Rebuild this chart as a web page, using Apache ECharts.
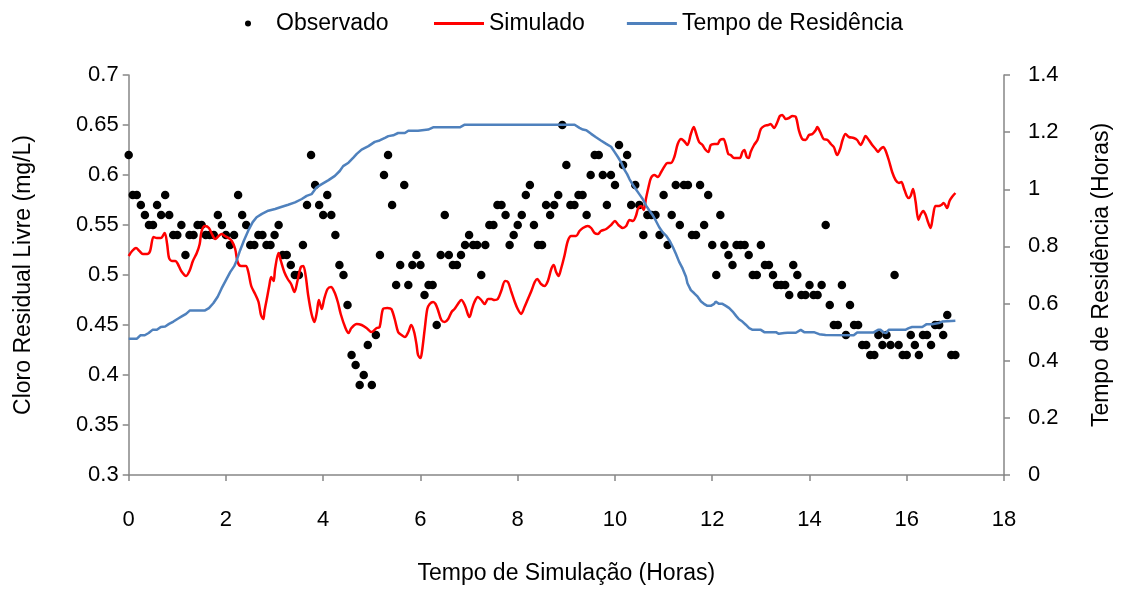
<!DOCTYPE html>
<html>
<head>
<meta charset="utf-8">
<script src="https://cdn.jsdelivr.net/npm/echarts@6/dist/echarts.min.js"></script>
<style>
  html, body { margin: 0; padding: 0; background: #ffffff; }
  #chart { width: 1121px; height: 590px; }
</style>
</head>
<body>
<div id="chart"></div>
<script>
// Observed free residual chlorine (mg/L), one sample every 5 minutes from t = 0 h
const sampleStepHours = 5 / 60;
const observado = [
  0.62, 0.58, 0.58, 0.57, 0.56, 0.55, 0.55, 0.57, 0.56, 0.58,
  0.56, 0.54, 0.54, 0.55, 0.52, 0.54, 0.54, 0.55, 0.55, 0.54,
  0.54, 0.54, 0.56, 0.55, 0.54, 0.53, 0.54, 0.58, 0.56, 0.55,
  0.53, 0.53, 0.54, 0.54,
  0.53, 0.53, 0.54, 0.55, 0.52, 0.52, 0.51, 0.50, 0.50, 0.53,
  0.57, 0.62, 0.59, 0.57, 0.56, 0.58, 0.56, 0.54, 0.51, 0.50,
  0.47, 0.42, 0.41, 0.39, 0.40, 0.43, 0.39, 0.44, 0.52, 0.60,
  0.62, 0.57, 0.49, 0.51, 0.59,
  0.49, 0.51, 0.52, 0.51, 0.48, 0.49, 0.49, 0.45, 0.52, 0.56,
  0.52, 0.51, 0.51, 0.52, 0.53, 0.54, 0.53, 0.53, 0.50, 0.53,
  0.55, 0.55, 0.57, 0.57, 0.56, 0.53, 0.54, 0.55, 0.56, 0.58,
  0.59, 0.55, 0.53, 0.53, 0.57,
  0.56, 0.57, 0.58, 0.65, 0.61, 0.57, 0.57, 0.58, 0.58, 0.56,
  0.60, 0.62, 0.62, 0.60, 0.57, 0.60, 0.59, 0.63, 0.61, 0.62,
  0.57, 0.59, 0.57, 0.54, 0.56, 0.56, 0.56,
  0.54, 0.58, 0.53, 0.56, 0.59, 0.55, 0.59, 0.59, 0.54, 0.54,
  0.59, 0.55, 0.58, 0.53, 0.50, 0.56, 0.53, 0.52, 0.51, 0.53,
  0.53, 0.53, 0.52, 0.50, 0.50, 0.53, 0.51, 0.51, 0.50, 0.49,
  0.49, 0.49, 0.48, 0.51, 0.50, 0.48, 0.48, 0.49, 0.48, 0.48,
  0.49, 0.55,
  0.47, 0.45, 0.45, 0.49, 0.44, 0.47, 0.45, 0.45, 0.43, 0.43,
  0.42, 0.42, 0.44, 0.43, 0.44, 0.43, 0.50, 0.43, 0.42, 0.42,
  0.44, 0.43, 0.42, 0.44, 0.44, 0.43, 0.45, 0.45, 0.44, 0.46,
  0.42, 0.42
];

// Simulated chlorine: [hours, mg/L]
const simulado = [
  [0.00,0.519],[0.07,0.524],[0.15,0.527],[0.22,0.524],[0.29,0.521],[0.38,0.521],[0.44,0.524],[0.51,0.538],
  [0.58,0.537],[0.66,0.537],[0.74,0.542],[0.79,0.531],[0.83,0.517],[0.89,0.514],[0.96,0.514],[1.01,0.511],
  [1.08,0.504],[1.18,0.499],[1.25,0.504],[1.32,0.514],[1.40,0.522],[1.46,0.531],[1.50,0.544],[1.57,0.549],
  [1.65,0.547],[1.71,0.541],[1.78,0.536],[1.85,0.539],[1.91,0.541],[1.98,0.539],[2.05,0.537],[2.12,0.534],
  [2.19,0.526],[2.24,0.513],[2.31,0.509],[2.41,0.509],[2.46,0.503],[2.52,0.489],[2.60,0.481],[2.67,0.473],
  [2.72,0.460],[2.77,0.456],[2.79,0.463],[2.84,0.476],[2.89,0.489],[2.93,0.498],[2.98,0.494],[3.01,0.506],
  [3.08,0.522],[3.13,0.514],[3.20,0.503],[3.27,0.496],[3.34,0.491],[3.41,0.483],[3.47,0.494],[3.54,0.508],
  [3.59,0.509],[3.64,0.499],[3.69,0.480],[3.76,0.461],[3.82,0.453],[3.87,0.463],[3.91,0.475],[3.97,0.466],
  [4.02,0.476],[4.09,0.486],[4.16,0.488],[4.23,0.483],[4.30,0.473],[4.36,0.461],[4.45,0.448],[4.52,0.442],
  [4.58,0.447],[4.69,0.451],[4.79,0.450],[4.89,0.447],[4.99,0.443],[5.10,0.447],[5.16,0.448],[5.23,0.466],
  [5.32,0.467],[5.40,0.466],[5.47,0.456],[5.54,0.443],[5.61,0.440],[5.68,0.438],[5.75,0.443],[5.81,0.450],
  [5.87,0.443],[5.92,0.430],[5.95,0.420],[6.00,0.417],[6.03,0.423],[6.09,0.447],[6.14,0.466],[6.19,0.471],
  [6.26,0.473],[6.31,0.471],[6.36,0.465],[6.43,0.455],[6.50,0.453],[6.57,0.456],[6.64,0.463],[6.70,0.466],
  [6.77,0.471],[6.84,0.475],[6.91,0.470],[6.98,0.460],[7.01,0.458],[7.06,0.466],[7.11,0.473],[7.18,0.478],
  [7.25,0.475],[7.32,0.471],[7.39,0.476],[7.46,0.476],[7.52,0.475],[7.59,0.476],[7.66,0.484],[7.74,0.494],
  [7.80,0.493],[7.87,0.483],[7.94,0.473],[8.00,0.466],[8.07,0.461],[8.14,0.468],[8.21,0.476],[8.28,0.484],
  [8.35,0.493],[8.40,0.496],[8.48,0.491],[8.55,0.489],[8.62,0.494],[8.69,0.506],[8.74,0.510],[8.79,0.503],
  [8.84,0.499],[8.89,0.506],[8.96,0.519],[9.03,0.534],[9.10,0.539],[9.20,0.539],[9.27,0.544],[9.34,0.547],
  [9.44,0.549],[9.51,0.547],[9.58,0.542],[9.65,0.541],[9.71,0.544],[9.82,0.546],[9.92,0.550],[10.00,0.554],
  [10.07,0.550],[10.16,0.547],[10.23,0.549],[10.30,0.555],[10.37,0.554],[10.43,0.559],[10.48,0.567],[10.54,0.569],
  [10.59,0.565],[10.64,0.577],[10.69,0.588],[10.74,0.597],[10.81,0.600],[10.88,0.598],[10.95,0.603],[11.01,0.608],
  [11.08,0.612],[11.15,0.612],[11.22,0.618],[11.29,0.631],[11.36,0.636],[11.42,0.634],[11.49,0.630],[11.56,0.641],
  [11.62,0.648],[11.66,0.643],[11.73,0.633],[11.80,0.630],[11.85,0.626],[11.92,0.623],[11.97,0.630],[12.04,0.631],
  [12.11,0.631],[12.16,0.635],[12.23,0.636],[12.28,0.630],[12.33,0.621],[12.38,0.620],[12.45,0.617],[12.52,0.617],
  [12.57,0.617],[12.62,0.623],[12.66,0.625],[12.71,0.618],[12.75,0.617],[12.79,0.623],[12.86,0.630],[12.93,0.635],
  [13.00,0.646],[13.07,0.649],[13.15,0.650],[13.20,0.651],[13.27,0.647],[13.34,0.653],[13.39,0.659],[13.44,0.660],
  [13.51,0.656],[13.58,0.657],[13.65,0.659],[13.72,0.658],[13.78,0.645],[13.85,0.636],[13.92,0.635],[13.99,0.640],
  [14.06,0.641],[14.13,0.645],[14.16,0.648],[14.22,0.643],[14.29,0.636],[14.37,0.635],[14.44,0.631],[14.50,0.628],
  [14.57,0.620],[14.63,0.626],[14.68,0.635],[14.74,0.641],[14.81,0.638],[14.91,0.637],[14.98,0.635],[15.05,0.630],
  [15.11,0.635],[15.15,0.639],[15.22,0.635],[15.29,0.630],[15.36,0.626],[15.41,0.623],[15.46,0.626],[15.52,0.628],
  [15.56,0.625],[15.63,0.615],[15.70,0.603],[15.77,0.595],[15.84,0.592],[15.89,0.593],[15.94,0.587],[16.00,0.579],
  [16.04,0.577],[16.08,0.579],[16.13,0.586],[16.18,0.574],[16.24,0.555],[16.28,0.560],[16.34,0.564],[16.39,0.560],
  [16.43,0.554],[16.49,0.547],[16.54,0.559],[16.59,0.569],[16.66,0.569],[16.71,0.570],[16.76,0.572],[16.83,0.567],
  [16.88,0.574],[16.93,0.578],[17.00,0.582]
];

// Residence time (hours): [hours, hours]
const tempoResidencia = [
  [0.00,0.477],[0.17,0.477],[0.24,0.489],[0.33,0.489],[0.41,0.497],[0.49,0.508],[0.58,0.508],[0.66,0.518],
  [0.75,0.520],[0.83,0.529],[0.92,0.537],[1.01,0.547],[1.09,0.555],[1.18,0.564],[1.26,0.576],[1.57,0.576],
  [1.65,0.584],[1.74,0.601],[1.83,0.624],[1.91,0.653],[2.00,0.682],[2.09,0.711],[2.17,0.731],[2.22,0.751],
  [2.29,0.786],[2.37,0.821],[2.46,0.856],[2.55,0.885],[2.63,0.902],[2.74,0.914],[2.87,0.925],[3.01,0.931],
  [3.15,0.939],[3.28,0.946],[3.42,0.954],[3.56,0.966],[3.66,0.977],[3.76,0.983],[3.86,1.006],[3.97,1.018],
  [4.11,1.032],[4.24,1.047],[4.34,1.064],[4.41,1.081],[4.52,1.093],[4.62,1.111],[4.69,1.124],[4.79,1.139],
  [4.93,1.151],[5.06,1.166],[5.16,1.171],[5.27,1.180],[5.34,1.186],[5.44,1.189],[5.54,1.197],[5.68,1.197],
  [5.75,1.205],[5.95,1.205],[6.16,1.209],[6.26,1.217],[6.81,1.217],[6.91,1.226],[9.17,1.226],[9.27,1.215],
  [9.34,1.209],[9.41,1.207],[9.51,1.194],[9.61,1.182],[9.71,1.171],[9.82,1.159],[9.92,1.149],[9.99,1.131],
  [10.06,1.113],[10.13,1.093],[10.19,1.070],[10.25,1.053],[10.30,1.035],[10.37,1.015],[10.43,1.000],[10.50,0.983],
  [10.57,0.966],[10.64,0.943],[10.71,0.925],[10.78,0.908],[10.84,0.890],[10.91,0.867],[10.98,0.850],[11.05,0.838],
  [11.12,0.821],[11.19,0.798],[11.25,0.775],[11.32,0.746],[11.39,0.723],[11.46,0.694],[11.49,0.671],[11.56,0.647],
  [11.63,0.636],[11.70,0.624],[11.77,0.607],[11.83,0.599],[11.90,0.592],[11.97,0.592],[12.04,0.599],[12.07,0.607],
  [12.14,0.599],[12.21,0.599],[12.28,0.592],[12.35,0.584],[12.42,0.572],[12.49,0.557],[12.55,0.545],[12.62,0.537],
  [12.69,0.526],[12.76,0.514],[12.83,0.508],[13.00,0.508],[13.07,0.500],[13.31,0.500],[13.37,0.494],[13.41,0.490],
  [13.48,0.497],[13.55,0.498],[13.72,0.498],[13.82,0.508],[13.89,0.500],[14.09,0.500],[14.20,0.493],[14.33,0.490],
  [14.91,0.489],[14.98,0.499],[15.32,0.499],[15.41,0.508],[15.46,0.508],[15.53,0.499],[15.58,0.497],[15.63,0.508],
  [15.97,0.508],[16.04,0.514],[16.11,0.518],[16.32,0.518],[16.41,0.528],[16.52,0.528],[16.66,0.532],[16.73,0.537],
  [17.00,0.540]
];

const observadoPontos = observado.map((v, i) => [i * sampleStepHours, v]);

const FONT = 'Liberation Sans';
const AXIS_GRAY = '#868686';

const chart = echarts.init(document.getElementById('chart'), null, { renderer: 'canvas' });

const axisCommon = {
  axisLine: { show: true, onZero: false, lineStyle: { color: AXIS_GRAY, width: 1.5 } },
  axisTick: { show: true, inside: false, length: 6, lineStyle: { color: AXIS_GRAY, width: 1.5 } },
  splitLine: { show: false },
  nameTextStyle: { color: '#000', fontFamily: FONT, fontSize: 23 },
  axisLabel: { color: '#000', fontFamily: FONT, fontSize: 22 }
};

chart.setOption({
  animation: false,
  backgroundColor: '#ffffff',
  textStyle: { fontFamily: FONT },
  grid: { left: 128.7, right: 115.3, top: 75, bottom: 112.3, containLabel: false },
  legend: [
    {
      data: [{ name: 'Observado', icon: 'circle' }],
      left: 240, top: 7,
      itemWidth: 6, itemHeight: 6,
      textStyle: { color: '#000', fontFamily: FONT, fontSize: 23, padding: [0, 0, 0, 20] },
      selectedMode: false
    },
    {
      data: [{ name: 'Simulado', icon: 'rect' }, { name: 'Tempo de Residência', icon: 'rect' }],
      left: 429, top: 7,
      itemWidth: 50, itemHeight: 3, itemGap: 42,
      textStyle: { color: '#000', fontFamily: FONT, fontSize: 23 },
      selectedMode: false
    }
  ],
  xAxis: Object.assign({}, axisCommon, {
    type: 'value', min: 0, max: 18, interval: 2,
    name: 'Tempo de Simulação (Horas)', nameLocation: 'middle', nameGap: 87,
    axisLabel: Object.assign({}, axisCommon.axisLabel, { margin: 34 })
  }),
  yAxis: [
    Object.assign({}, axisCommon, {
      type: 'value', min: 0.3, max: 0.7, interval: 0.05, position: 'left',
      name: 'Cloro Residual Livre (mg/L)', nameLocation: 'middle', nameGap: 94, nameRotate: 90,
      axisLabel: Object.assign({}, axisCommon.axisLabel, { margin: 10 })
    }),
    Object.assign({}, axisCommon, {
      type: 'value', min: 0, max: 1.4, interval: 0.2, position: 'right',
      name: 'Tempo de Residência (Horas)', nameLocation: 'middle', nameGap: 86, nameRotate: 90,
      axisLabel: Object.assign({}, axisCommon.axisLabel, { margin: 24 })
    })
  ],
  series: [
    {
      name: 'Observado', type: 'scatter', yAxisIndex: 0,
      data: observadoPontos, symbol: 'circle', symbolSize: 8.5,
      itemStyle: { color: '#000000', opacity: 1 }
    },
    {
      name: 'Simulado', type: 'line', yAxisIndex: 0,
      data: simulado, showSymbol: false, smooth: 0.3,
      lineStyle: { color: '#ff0000', width: 2.5 }, itemStyle: { color: '#ff0000' }
    },
    {
      name: 'Tempo de Residência', type: 'line', yAxisIndex: 1,
      data: tempoResidencia, showSymbol: false,
      lineStyle: { color: '#4f81bd', width: 2.5 }, itemStyle: { color: '#4f81bd' }
    }
  ]
});
</script>
</body>
</html>
